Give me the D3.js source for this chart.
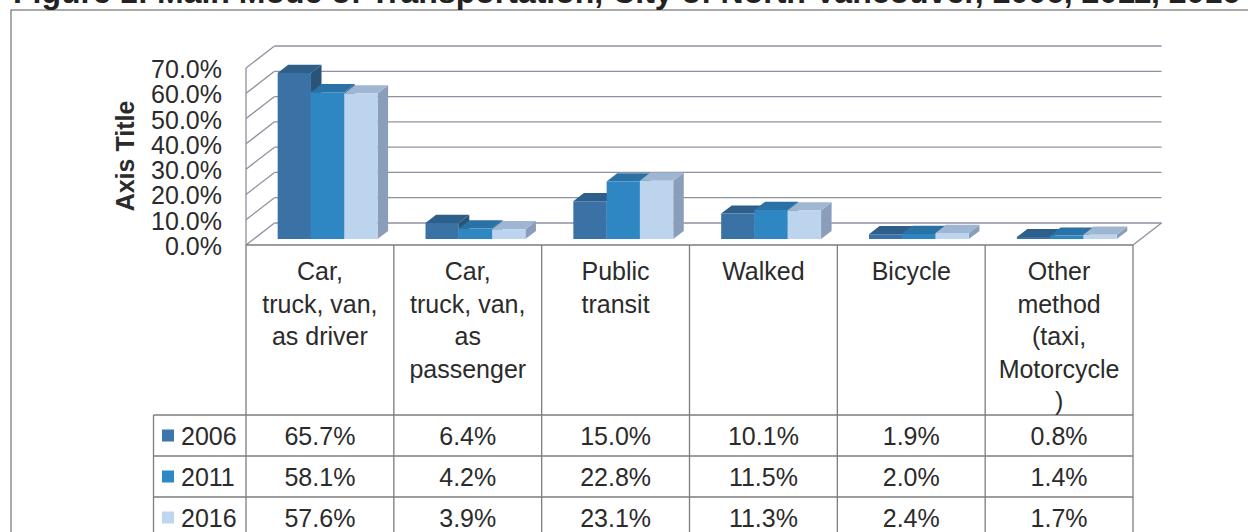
<!DOCTYPE html>
<html>
<head>
<meta charset="utf-8">
<script src="https://cdn.jsdelivr.net/npm/d3@7"></script>
<style>
  html, body { margin: 0; padding: 0; background: #fff; }
  svg { display: block; font-family: "Liberation Sans", Arial, sans-serif; }
</style>
</head>
<body>
<div id="chart"></div>
<script>
const title = 'Figure 1: Main Mode of Transportation, City of North Vancouver, 2006, 2011, 2016'
const categories = ['driver', 'passenger', 'transit', 'walked', 'bicycle', 'other']
const categoryLines = [
  ['Car,', 'truck, van,', 'as driver'],
  ['Car,', 'truck, van,', 'as', 'passenger'],
  ['Public', 'transit'],
  ['Walked'],
  ['Bicycle'],
  ['Other', 'method', '(taxi,', 'Motorcycle', ')']
]
const years = ['2006', '2011', '2016']
const values2006 = [0.657, 0.064, 0.150, 0.101, 0.019, 0.008]
const values2011 = [0.581, 0.042, 0.228, 0.115, 0.020, 0.014]
const values2016 = [0.576, 0.039, 0.231, 0.113, 0.024, 0.017]
const yTicks = [0, 0.1, 0.2, 0.3, 0.4, 0.5, 0.6, 0.7]

const series = [values2006, values2011, values2016]
const colors = {
  '2006': { front: '#3a72a6', top: '#2e5e8a', side: '#2a5378', key: '#3c76aa' },
  '2011': { front: '#2e86c2', top: '#2a71a5', side: '#276696', key: '#2f88c6' },
  '2016': { front: '#bdd4ee', top: '#9fb6d2', side: '#8b9eb9', key: '#bfd6ef' }
}

const width = 1248
const height = 532
const floorLeft = 246
const floorRight = 1133
// oblique depth vector of the 3D box
const depthX = 28.5
const depthY = -22
const barD0 = 0.27
const barD1 = 0.64

const svg = d3.select('#chart').append('svg')
  .attr('width', width)
  .attr('height', height)

const x = d3.scaleBand().domain(categories).range([floorLeft, floorRight])
const xs = d3.scaleBand().domain(years).range([0, x.bandwidth()]).paddingOuter(0.72)
const y = d3.scaleLinear().domain([0, 0.7]).range([245, 68])

const proj = (px, v, d) => [px + depthX * d, y(v) + depthY * d]
const line = d3.line()

// outer chart frame
svg.append('rect')
  .attr('x', 11).attr('y', 10)
  .attr('width', 1400).attr('height', 700)
  .attr('fill', 'none').attr('stroke', '#7d7d7d').attr('stroke-width', 1.3)

svg.append('text')
  .attr('x', 13).attr('y', 3)
  .attr('font-size', 32).attr('font-weight', 'bold').attr('fill', '#222')
  .text(title)

// walls and gridlines
const grid = svg.append('g')
  .attr('stroke', '#8f90a0').attr('stroke-width', 1.3).attr('fill', 'none')

yTicks.forEach(t => {
  grid.append('path').attr('d', line([proj(floorLeft, t, 1), proj(floorRight, t, 1)]))
  grid.append('path').attr('d', line([proj(floorLeft, t, 0), proj(floorLeft, t, 1)]))
})
grid.append('path').attr('d', line([proj(floorLeft, 0, 0), proj(floorLeft, 0.7, 0)]))
grid.append('path').attr('d', line([proj(floorRight, 0, 0), proj(floorRight, 0, 1)]))

// bars, painted left to right
const bars = svg.append('g')
categories.forEach((c, i) => {
  years.forEach((yr, j) => {
    const v = series[j][i]
    const xl = x(c) + xs(yr)
    const xr = xl + xs.bandwidth()
    const col = colors[yr]
    const side = [proj(xr, 0, barD0), proj(xr, 0, barD1), proj(xr, v, barD1), proj(xr, v, barD0)]
    const top = [proj(xl, v, barD0), proj(xr, v, barD0), proj(xr, v, barD1), proj(xl, v, barD1)]
    const front = [proj(xl, 0, barD0), proj(xr, 0, barD0), proj(xr, v, barD0), proj(xl, v, barD0)]
    bars.append('path').attr('d', line(side) + 'Z').attr('fill', col.side)
    bars.append('path').attr('d', line(top) + 'Z').attr('fill', col.top)
    bars.append('path').attr('d', line(front) + 'Z').attr('fill', col.front)
  })
})

// value axis labels
svg.append('g')
  .selectAll('text')
  .data(yTicks)
  .enter().append('text')
  .attr('x', 222)
  .attr('y', d => y(d) + 1)
  .attr('text-anchor', 'end')
  .attr('dominant-baseline', 'central')
  .attr('font-size', 25)
  .attr('fill', '#2b2b2b')
  .text(d3.format('.1%'))

svg.append('text')
  .attr('transform', 'translate(125,156) rotate(-90)')
  .attr('text-anchor', 'middle')
  .attr('dominant-baseline', 'central')
  .attr('font-size', 25).attr('font-weight', 'bold').attr('fill', '#2b2b2b')
  .text('Axis Title')

// data table
const tableTop = y(0)
const headerBottom = 415
const rowH = 41
const legendLeft = 153.5
const tableBottom = headerBottom + rowH * years.length
const table = svg.append('g')
  .attr('stroke', '#7d7d7d').attr('stroke-width', 1.3).attr('fill', 'none')

table.append('path').attr('d', line([[floorLeft, tableTop], [floorRight, tableTop]]))
d3.range(years.length + 1).forEach(k => {
  const ry = headerBottom + k * rowH
  table.append('path').attr('d', line([[legendLeft, ry], [floorRight, ry]]))
})
categories.forEach(c => {
  table.append('path').attr('d', line([[x(c), tableTop], [x(c), tableBottom]]))
})
table.append('path').attr('d', line([[floorRight, tableTop], [floorRight, tableBottom]]))
table.append('path').attr('d', line([[legendLeft, headerBottom], [legendLeft, tableBottom]]))

const cells = svg.append('g')
  .attr('font-size', 25).attr('fill', '#2b2b2b').attr('text-anchor', 'middle')

categories.forEach((c, i) => {
  const cx = x(c) + x.bandwidth() / 2
  categoryLines[i].forEach((ln, k) => {
    cells.append('text')
      .attr('x', cx).attr('y', 271 + k * 32.5)
      .attr('dominant-baseline', 'central')
      .text(ln)
  })
  years.forEach((yr, j) => {
    cells.append('text')
      .attr('x', cx).attr('y', headerBottom + rowH * (j + 0.5))
      .attr('dominant-baseline', 'central')
      .text(d3.format('.1%')(series[j][i]))
  })
})

years.forEach((yr, j) => {
  const ry = headerBottom + rowH * (j + 0.5)
  svg.append('rect')
    .attr('x', 162).attr('y', ry - 6)
    .attr('width', 12).attr('height', 12)
    .attr('fill', colors[yr].key)
  svg.append('text')
    .attr('x', 181).attr('y', ry)
    .attr('dominant-baseline', 'central')
    .attr('font-size', 25).attr('fill', '#2b2b2b')
    .text(yr)
})
</script>
</body>
</html>
